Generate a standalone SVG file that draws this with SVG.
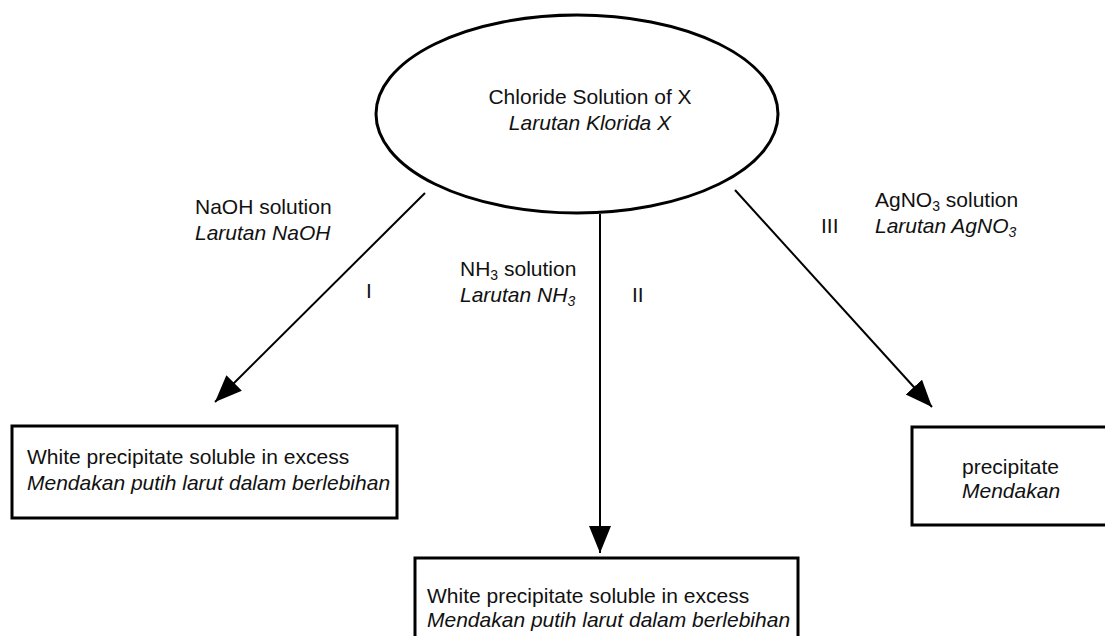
<svg xmlns="http://www.w3.org/2000/svg" width="1105" height="636" viewBox="0 0 1105 636">
<style>
  text { font-family: "Liberation Sans", Arial, sans-serif; font-size: 21px; fill: #111; }
  .it { font-style: italic; }
  .sub { font-size: 14px; }
  .box { fill: #fff; stroke: #000; stroke-width: 3; }
  .conn { stroke: #000; stroke-width: 2; fill: none; marker-end: url(#ah); }
</style>
<defs>
  <marker id="ah" markerUnits="userSpaceOnUse" markerWidth="28" markerHeight="23" refX="27" refY="11" orient="auto" viewBox="0 0 28 23">
    <path d="M0,0 L27,11 L0,22 Z" fill="#000"/>
  </marker>
</defs>
<rect width="1105" height="636" fill="#fff"/>

<g id="connectors">
  <line class="conn" x1="425" y1="193" x2="215" y2="402"/>
  <line class="conn" x1="600" y1="214" x2="600" y2="553"/>
  <line class="conn" x1="735" y1="190" x2="932" y2="407"/>
</g>

<g id="source">
  <ellipse cx="577" cy="114" rx="201" ry="99" fill="none" stroke="#000" stroke-width="3"/>
  <text x="590" y="104" text-anchor="middle">Chloride Solution of X</text>
  <text x="590" y="130" text-anchor="middle" class="it">Larutan Klorida X</text>
</g>

<g id="label-I">
  <text x="195" y="214">NaOH solution</text>
  <text x="195" y="240" class="it">Larutan NaOH</text>
  <text x="366" y="298">I</text>
</g>

<g id="label-II">
  <text x="460" y="276">NH<tspan class="sub" dy="4">3</tspan><tspan dy="-4"> solution</tspan></text>
  <text x="460" y="302" class="it">Larutan NH<tspan class="sub" dy="4">3</tspan></text>
  <text x="632" y="302">II</text>
</g>

<g id="label-III">
  <text x="875" y="207">AgNO<tspan class="sub" dy="4">3</tspan><tspan dy="-4"> solution</tspan></text>
  <text x="875" y="233" class="it">Larutan AgNO<tspan class="sub" dy="4">3</tspan></text>
  <text x="821" y="233">III</text>
</g>

<g id="result-I">
  <rect class="box" x="12" y="426" width="385" height="92"/>
  <text x="27" y="464">White precipitate soluble in excess</text>
  <text x="27" y="490" class="it">Mendakan putih larut dalam berlebihan</text>
</g>

<g id="result-II">
  <rect class="box" x="415" y="558" width="383" height="100"/>
  <text x="427" y="603">White precipitate soluble in excess</text>
  <text x="427" y="627" class="it">Mendakan putih larut dalam berlebihan</text>
</g>

<g id="result-III">
  <rect class="box" x="912" y="427" width="250" height="98"/>
  <text x="962" y="474">precipitate</text>
  <text x="962" y="498" class="it">Mendakan</text>
</g>
</svg>
